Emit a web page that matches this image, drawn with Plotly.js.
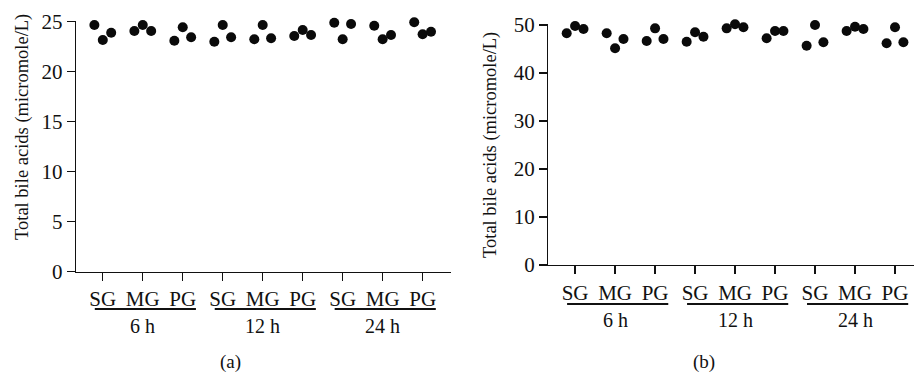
<!DOCTYPE html>
<html>
<head>
<meta charset="utf-8">
<script src="https://cdn.plot.ly/plotly-3.0.1.min.js"></script>
<style>html,body{margin:0;padding:0;background:#fff;} #chart{width:914px;height:374px;}</style>
</head>
<body>
<div id="chart"></div>
<script>
// ---- data ----
const timePoints = ['6 h', '12 h', '24 h'];
const groupNames = ['SG', 'MG', 'PG'];
const yTitle = 'Total bile acids (micromole/L)';
const panelLabels = ['(a)', '(b)'];

// Panel (a): three replicate measurements per condition
const aRep1 = [24.67, 24.07, 23.10, 23.00, 23.24, 23.57, 24.90, 24.60, 24.94];
const aRep2 = [23.17, 24.67, 24.44, 24.67, 24.67, 24.17, 23.24, 23.24, 23.74];
const aRep3 = [23.90, 24.07, 23.44, 23.44, 23.34, 23.67, 24.77, 23.67, 24.00];

// Panel (b)
const bRep1 = [48.27, 48.27, 46.67, 46.52, 49.30, 47.23, 45.69, 48.75, 46.19];
const bRep2 = [49.79, 45.15, 49.30, 48.48, 50.15, 48.75, 50.00, 49.65, 49.52];
const bRep3 = [49.17, 47.08, 47.08, 47.56, 49.52, 48.75, 46.40, 49.17, 46.40];

const yTicksA = [0, 5, 10, 15, 20, 25];
const yTicksB = [0, 10, 20, 30, 40, 50];

// ---- build ----
const cats = timePoints.flatMap(t => groupNames.map(g => t + ' ' + g));
const catText = timePoints.flatMap(() => groupNames);

const FONT = 'Liberation Serif, Times New Roman, serif';
const INK = '#111';
const W = 914, H = 374;
const px = v => v / W;
const py = v => (H - v) / H;

const traces = [];
[[aRep1, aRep2, aRep3], [bRep1, bRep2, bRep3]].forEach((reps, p) => {
  reps.forEach((rep, i) => {
    traces.push({
      type: 'scatter', mode: 'markers',
      x: cats, y: rep,
      xaxis: p === 0 ? 'x' : 'x2', yaxis: p === 0 ? 'y' : 'y2',
      offsetgroup: 'r' + i,
      marker: {size: 10, color: '#0a0a0a'},
      cliponaxis: false, showlegend: false, hoverinfo: 'y'
    });
  });
});

const xBase = {
  type: 'category', categoryorder: 'array', categoryarray: cats,
  tickmode: 'array', tickvals: cats, ticktext: catText,
  showline: true, linecolor: INK, linewidth: 1.3,
  ticks: 'outside', ticklen: 8, tickcolor: INK, tickwidth: 1.3,
  showgrid: false, zeroline: false,
  tickfont: {family: FONT, size: 21, color: INK}, fixedrange: true
};
const yBase = {
  showline: true, linecolor: INK, linewidth: 1.3,
  ticks: 'outside', ticklen: 8, tickcolor: INK, tickwidth: 1.3,
  showgrid: false, zeroline: false, tickmode: 'array',
  tickfont: {family: FONT, size: 21, color: INK}, fixedrange: true
};

const panels = [
  {xa: 'x', dom: [px(76), px(451)], range: [-0.67, 8.71], lineY: 309, labY: 326,
   titleX: 22, titleY: 127, panX: 230.5},
  {xa: 'x2', dom: [px(548.3), 1], range: [-0.67, 8.475], lineY: 304, labY: 320,
   titleX: 490, titleY: 145, panX: 704}
];

const shapes = [], annotations = [];
panels.forEach((pn, p) => {
  timePoints.forEach((t, k) => {
    const first = k * groupNames.length, last = first + groupNames.length - 1;
    shapes.push({type: 'line', xref: pn.xa, yref: 'paper',
      x0: first - 0.2, x1: last + 0.33, y0: py(pn.lineY), y1: py(pn.lineY),
      line: {color: INK, width: 2}});
    annotations.push({xref: pn.xa, yref: 'paper', x: (first + last) / 2, y: py(pn.labY),
      text: t, showarrow: false, xanchor: 'center', yanchor: 'middle',
      font: {family: FONT, size: 20, color: INK}});
  });
  annotations.push({xref: 'paper', yref: 'paper', x: px(pn.titleX), y: py(pn.titleY),
    text: yTitle, textangle: -90, showarrow: false, xanchor: 'center', yanchor: 'middle',
    font: {family: FONT, size: 18.5, color: INK}});
  annotations.push({xref: 'paper', yref: 'paper', x: px(pn.panX), y: py(362),
    text: panelLabels[p], showarrow: false, xanchor: 'center', yanchor: 'middle',
    font: {family: FONT, size: 19, color: INK}});
});

const layout = {
  width: W, height: H,
  margin: {l: 0, r: 0, t: 0, b: 0, pad: 0},
  paper_bgcolor: '#fff', plot_bgcolor: '#fff',
  showlegend: false,
  scattermode: 'group', scattergap: 0.37,
  xaxis: Object.assign({}, xBase, {domain: panels[0].dom, range: panels[0].range, anchor: 'y'}),
  yaxis: Object.assign({}, yBase, {domain: [py(271.7), py(21.2)], range: [0, 25.05],
    tickvals: yTicksA, ticktext: yTicksA.map(String), anchor: 'x'}),
  xaxis2: Object.assign({}, xBase, {domain: panels[1].dom, range: panels[1].range, anchor: 'y2'}),
  yaxis2: Object.assign({}, yBase, {domain: [py(265), py(24.04)], range: [0, 50.2],
    tickvals: yTicksB, ticktext: yTicksB.map(String), anchor: 'x2'}),
  shapes: shapes, annotations: annotations
};

Plotly.newPlot('chart', traces, layout, {staticPlot: true, displayModeBar: false});
</script>
</body>
</html>
